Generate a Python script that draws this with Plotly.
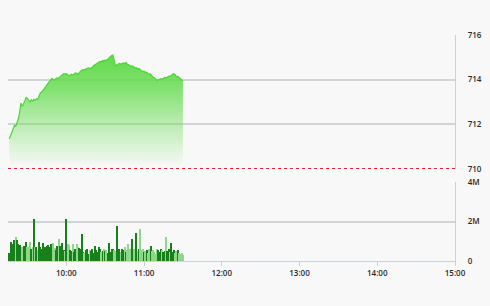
import pandas as pd
import plotly.graph_objects as go

# ---- data ----
SESSION_DATE = "2024-01-02"
START_TIME = "09:16"
REF_PRICE = 710.0
FILL_BASE = 710.25

PRICE = [
    711.35, 711.50, 711.62, 711.80, 711.95, 711.92, 712.05, 712.25, 712.55, 712.95,
    712.80, 712.90, 713.05, 713.22, 713.12, 713.08, 713.00, 713.10, 713.04, 713.12,
    713.08, 713.15, 713.12, 713.28, 713.42, 713.45, 713.55, 713.60, 713.68, 713.80,
    713.85, 713.92, 713.98, 714.06, 714.00, 713.98, 714.05, 714.08, 714.06, 714.15,
    714.18, 714.22, 714.27, 714.25, 714.27, 714.22, 714.16, 714.20, 714.24, 714.20,
    714.26, 714.30, 714.28, 714.24, 714.32, 714.38, 714.42, 714.45, 714.43, 714.48,
    714.52, 714.53, 714.50, 714.52, 714.55, 714.62, 714.66, 714.70, 714.76, 714.78,
    714.82, 714.80, 714.86, 714.84, 714.88, 714.86, 714.92, 714.98, 715.05, 715.08,
    715.10, 714.85, 714.62, 714.66, 714.70, 714.73, 714.69, 714.72, 714.75, 714.72,
    714.77, 714.70, 714.66, 714.64, 714.60, 714.62, 714.57, 714.53, 714.54, 714.48,
    714.50, 714.44, 714.40, 714.37, 714.38, 714.32, 714.34, 714.28, 714.24, 714.26,
    714.18, 714.10, 714.08, 714.02, 713.97, 714.00, 714.04, 714.05, 714.02, 714.06,
    714.10, 714.08, 714.12, 714.16, 714.14, 714.20, 714.24, 714.27, 714.22, 714.12,
    714.15, 714.10, 714.04, 713.98, 713.95,
]

VOLUME_M = [
    0.40, 0.97, 0.88, 0.75, 1.05, 1.22, 1.08, 0.85, 0.82, 0.70,
    0.72, 0.78, 0.74, 0.97, 0.70, 0.72, 0.95, 0.60, 0.72, 2.13,
    0.70, 0.72, 0.55, 0.97, 0.70, 0.62, 0.92, 0.70, 0.72, 0.74,
    0.80, 0.70, 0.85, 0.75, 0.90, 0.68, 0.58, 0.78, 1.13, 0.75,
    0.62, 0.90, 0.55, 0.52, 2.13, 0.85, 0.80, 0.58, 0.52, 0.88,
    0.45, 0.60, 0.85, 0.72, 0.68, 0.60, 1.35, 0.45, 0.40, 0.58,
    0.62, 0.38, 0.55, 0.50, 0.62, 0.40, 0.75, 0.55, 0.48, 0.70,
    0.60, 0.45, 0.52, 0.62, 0.50, 0.55, 0.42, 0.90, 0.48, 0.60,
    0.62, 0.58, 0.50, 1.75, 0.52, 0.60, 0.45, 0.62, 0.55, 0.70,
    0.48, 0.55, 0.85, 0.60, 0.50, 1.10, 0.62, 0.55, 1.42, 0.50,
    0.60, 1.63, 0.55, 0.62, 0.45, 0.52, 0.58, 0.40, 0.62, 0.78,
    0.50, 0.55, 0.45, 0.35, 0.62, 0.55, 0.48, 0.60, 0.58, 0.45,
    0.52, 1.20, 0.50, 0.62, 0.48, 0.93, 0.45, 0.55, 0.40, 0.50,
    0.58, 0.42, 0.35, 0.40, 0.30,
]

PRICE_TICKS = [710, 712, 714, 716]
VOLUME_TICKS = [0, 2e6, 4e6]
VOLUME_TICK_LABELS = ["0", "2M", "4M"]
TIME_TICK_LABELS = ["10:00", "11:00", "12:00", "13:00", "14:00", "15:00"]
AXIS_START = "09:15"
AXIS_END = "15:00"

# ---- derived ----
times = pd.date_range(f"{SESSION_DATE} {START_TIME}", periods=len(PRICE), freq="min")
volume = [v * 1e6 for v in VOLUME_M]
time_ticks = [pd.Timestamp(f"{SESSION_DATE} {t}") for t in TIME_TICK_LABELS]

DARK = "#17801c"
LIGHT = "#8fd68a"
bar_colors = [DARK]
for i in range(1, len(PRICE)):
    bar_colors.append(DARK if PRICE[i] >= PRICE[i - 1] else LIGHT)

BG = "#f8f8f8"
GRID = "#d2d4d6"
FRAME = "#c6d2dc"
FONT = dict(family="Open Sans, Liberation Sans, sans-serif", size=8, color="#2a2a2a", weight=600)

fig = go.Figure()

# base for fill
fig.add_trace(go.Scatter(
    x=times, y=[FILL_BASE] * len(PRICE), mode="lines",
    line=dict(width=0, color="rgba(0,0,0,0)"), showlegend=False,
    hoverinfo="skip", xaxis="x", yaxis="y",
))
fig.add_trace(go.Scatter(
    x=times, y=PRICE, mode="lines", fill="tonexty",
    line=dict(color="#4cd635", width=1.2),
    fillgradient=dict(
        type="vertical",
        start=FILL_BASE, stop=max(PRICE),
        colorscale=[
            [0, "rgba(120,225,100,0.05)"],
            [0.35, "rgba(112,222,92,0.45)"],
            [0.7, "rgba(98,219,76,0.8)"],
            [1, "rgba(88,216,66,0.95)"],
        ],
    ),
    showlegend=False, xaxis="x", yaxis="y",
))

fig.add_trace(go.Bar(
    x=times, y=volume, marker=dict(color=bar_colors, line=dict(width=0)),
    width=60000 * 0.8, showlegend=False, xaxis="x2", yaxis="y2",
))

x_range = [pd.Timestamp(f"{SESSION_DATE} {AXIS_START}"), pd.Timestamp(f"{SESSION_DATE} {AXIS_END}")]

fig.update_layout(
    width=490, height=306,
    margin=dict(l=8, r=28, t=35, b=45),
    paper_bgcolor=BG, plot_bgcolor=BG,
    font=FONT,
    bargap=0,
    xaxis=dict(
        type="date", range=x_range, anchor="y", showgrid=False, showticklabels=False,
        zeroline=False, showline=False, matches="x2",
    ),
    yaxis=dict(
        domain=[(261 - 169) / 226, 1.0], range=[710, 716], side="right",
        tickvals=PRICE_TICKS, ticktext=[str(v) for v in PRICE_TICKS],
        showgrid=True, gridcolor=GRID, gridwidth=1.5, zeroline=False,
        showline=True, linecolor=FRAME, linewidth=1.2, mirror=False,
        ticks="", ticklabelstandoff=10, anchor="x",
    ),
    xaxis2=dict(
        type="date", range=x_range, anchor="y2", showgrid=False,
        tickvals=time_ticks, ticktext=TIME_TICK_LABELS,
        ticks="outside", ticklen=4, tickcolor=FRAME, tickwidth=1,
        showline=True, linecolor=FRAME, linewidth=1.2, zeroline=False,
    ),
    yaxis2=dict(
        domain=[0, (261 - 182) / 226], range=[0, 4e6], side="right",
        tickvals=VOLUME_TICKS, ticktext=VOLUME_TICK_LABELS,
        showgrid=True, gridcolor=GRID, gridwidth=1.5, zeroline=False,
        showline=True, linecolor=FRAME, linewidth=1.2,
        ticks="", ticklabelstandoff=10, anchor="x2",
    ),
    shapes=[dict(
        type="line", xref="paper", yref="y", x0=0, x1=1, y0=REF_PRICE, y1=REF_PRICE,
        line=dict(color="#e3262b", width=2, dash="dot"),
    )],
)

fig.write_html("out.html", config={"displayModeBar": False})
